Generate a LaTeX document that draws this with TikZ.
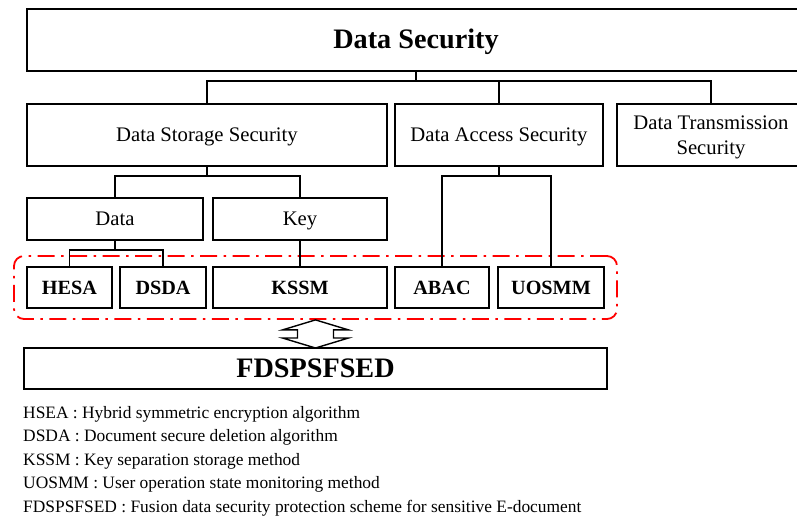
\documentclass[tikz,border=0pt]{standalone}
\usepackage{fontspec}
\setmainfont{Liberation Serif}
\usetikzlibrary{positioning,calc}

\begin{document}
\begin{tikzpicture}[
    x=1pt, y=-1pt,
    block/.style={rectangle, draw=black, line width=1.6pt, inner sep=0pt, outer sep=0pt, align=center, text height=15.4pt, text depth=2pt, font=\fontsize{20.7}{25}\selectfont},
    leafbox/.style={block, minimum height=41pt, text height=15pt, text depth=2pt, font=\bfseries\fontsize{20.2}{24}\selectfont},
    headbox/.style={block, text height=20pt, text depth=2.5pt, font=\bfseries\fontsize{28.2}{32}\selectfont},
    groupbox/.style={rectangle, draw=red, line width=1.8pt, rounded corners=10pt, inner sep=0pt, dash pattern=on 17pt off 6.5pt on 2.5pt off 6.5pt},
    link/.style={draw=black, line width=1.6pt},
    legend/.style={anchor=base west, inner sep=0pt, font=\fontsize{17.4}{20}\selectfont}
]
    \useasboundingbox (0,0) rectangle (797,517);

    % top level and the three branches
    \node [headbox, minimum width=778pt, minimum height=62pt] (top) at (416,40) {Data Security};
    \node [block, minimum width=360pt, minimum height=62pt] (dss) at (207,135) {Data Storage Security};
    \node [block, minimum width=208pt, minimum height=62pt, right=8pt of dss] (das) {Data Access Security};
    \node [block, minimum width=188pt, minimum height=62pt, text height=40.4pt, right=14pt of das] (dts) {Data Transmission\\Security};

    \node [block, minimum width=176pt, minimum height=42pt] (data) at (115,219) {Data};
    \node [block, minimum width=174pt, minimum height=42pt, right=10pt of data] (key) {Key};

    % methods
    \node [leafbox, minimum width=85pt] (hesa) at (69.5,287.5) {HESA};
    \node [leafbox, minimum width=86pt, right=8pt of hesa] (dsda) {DSDA};
    \node [leafbox, minimum width=174pt, right=7pt of dsda] (kssm) {KSSM};
    \node [leafbox, minimum width=94pt, right=8pt of kssm] (abac) {ABAC};
    \node [leafbox, minimum width=106pt, right=9pt of abac] (uosmm) {UOSMM};
    \node [groupbox, minimum width=603pt, minimum height=63pt] (group) at (315.5,287.5) {};

    \node [headbox, minimum width=583pt, minimum height=41pt] (fds) at (315.5,368.5) {FDSPSFSED};

    % tree lines
    \draw [link] (top.south) -- ++(0,10) coordinate (hub) -| (dss.north);
    \draw [link] (hub) -| (das.north);
    \draw [link] (hub) -| (dts.north);
    \draw [link] (dss.south) -- ++(0,10) coordinate (hubS) -| (data.north);
    \draw [link] (hubS) -| (key.north);
    \draw [link] (data.south) -- ++(0,10) coordinate (hubD) -| (hesa.north);
    \draw [link] (hubD) -| (dsda.north);
    \draw [link] (key.south) -- (kssm.north);
    \draw [link] (das.south) -- ++(0,10) coordinate (hubA) -| (abac.north);
    \draw [link] (hubA) -| (uosmm.north);

    % two-way arrow between the methods and the scheme
    \draw [line width=1.4pt, fill=white] (group.south)
        -- ($(group.south)+(33,10)$) -- ($(group.south)+(18,10)$)
        -- ($(fds.north)+(18,-10)$) -- ($(fds.north)+(33,-10)$)
        -- (fds.north)
        -- ($(fds.north)+(-33,-10)$) -- ($(fds.north)+(-18,-10)$)
        -- ($(group.south)+(-18,10)$) -- ($(group.south)+(-33,10)$) -- cycle;

    % abbreviations
    \foreach \txt [count=\i from 0] in {
        {HSEA : Hybrid symmetric encryption algorithm},
        {DSDA : Document secure deletion algorithm},
        {KSSM : Key separation storage method},
        {UOSMM : User operation state monitoring method},
        {FDSPSFSED : Fusion data security protection scheme for sensitive E-document}}
        \node [legend] (leg\i) at (23,418+23.5*\i) {\txt};
\end{tikzpicture}
\end{document}
